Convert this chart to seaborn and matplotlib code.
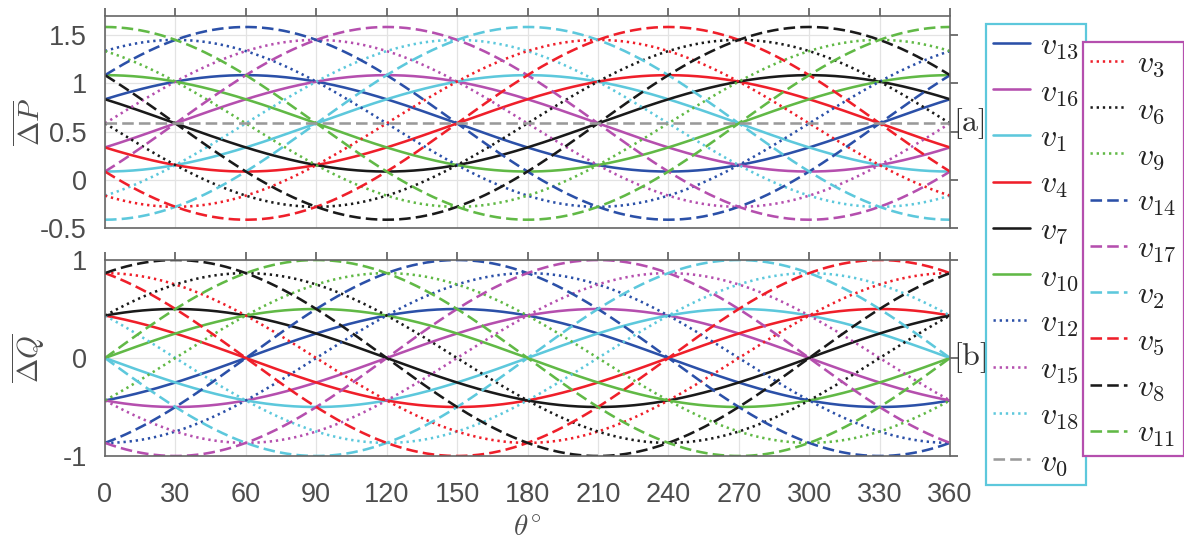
import numpy as np
import pandas as pd
import matplotlib
matplotlib.use('Agg')
import matplotlib.pyplot as plt
import matplotlib.transforms as mtransforms
import seaborn as sns

# Curves are sinusoids over theta; parameters
names = ['v13', 'v16', 'v1', 'v4', 'v7', 'v10',
         'v12', 'v15', 'v18', 'v3', 'v6', 'v9',
         'v14', 'v17', 'v2', 'v5', 'v8', 'v11']
p_level = 0.586          # common mean of the dP curves (also v0)
p_amp = [0.5] * 6 + [0.866] * 6 + [1.0] * 6
p_phase = [60, 120, 180, 240, 300, 0,
           30, 90, 150, 210, 270, 330,
           60, 120, 180, 240, 300, 0]
q_amp = [0.5] * 6 + [0.866] * 6 + [1.0] * 6
q_phase = [60, 120, 180, 240, 300, 0,
           90, 150, 210, 270, 330, 30,
           60, 120, 180, 240, 300, 0]
xticks = list(range(0, 361, 30))
p_yticks = [-0.5, 0, 0.5, 1, 1.5]
p_yticklabels = ['-0.5', '0', '0.5', '1', '1.5']
q_yticks = [-1, 0, 1]
q_yticklabels = ['-1', '0', '1']

# styles
blue, mag, cyan, red, blk, grn = '#2b50a8', '#b54fae', '#5dc8dc', '#ef1f2a', '#1a1a1a', '#61b946'
colors = [blue, mag, cyan, red, blk, grn] * 3
styles = ['-'] * 6 + [(0, (0.9, 1.5))] * 6 + [(0, (4.5, 2.0))] * 6

theta = np.linspace(0, 360, 721)
rows = []
for i, n in enumerate(names):
    rows.append(pd.DataFrame({'theta': theta, 'name': n,
                              'P': p_level + p_amp[i] * np.cos(np.deg2rad(theta - p_phase[i])),
                              'Q': q_amp[i] * np.sin(np.deg2rad(theta - q_phase[i]))}))
df = pd.concat(rows, ignore_index=True)

sns.set_style('whitegrid')
plt.rcParams['font.family'] = ['Liberation Sans', 'DejaVu Sans']
plt.rcParams['mathtext.fontset'] = 'cm'

fig = plt.figure(figsize=(11.84, 5.43), dpi=100)
ax1 = fig.add_axes([105 / 1184, 1 - 228 / 543, 845 / 1184, 212 / 543])
ax2 = fig.add_axes([105 / 1184, 1 - 456 / 543, 845 / 1184, 196 / 543])

handles = {}
for i, n in enumerate(names):
    d = df[df['name'] == n]
    sns.lineplot(data=d, x='theta', y='P', ax=ax1, color=colors[i], linestyle=styles[i],
                 linewidth=1.85, estimator=None, sort=False)
    handles[n] = ax1.get_lines()[-1]
    sns.lineplot(data=d, x='theta', y='Q', ax=ax2, color=colors[i], linestyle=styles[i],
                 linewidth=1.85, estimator=None, sort=False)

sns.lineplot(x=theta, y=np.full_like(theta, p_level), ax=ax1, color='#9a9a9a',
             linestyle=(0, (4.5, 2.0)), linewidth=1.85, estimator=None, sort=False)
handles['v0'] = ax1.get_lines()[-1]

for ax, yt, ytl in [(ax1, p_yticks, p_yticklabels), (ax2, q_yticks, q_yticklabels)]:
    ax.set_xlim(0, 360)
    ax.set_xticks(xticks)
    ax.set_yticks(yt)
    ax.set_yticklabels(ytl)
    ax.grid(True, color='#e3e3e3', linewidth=0.9)
    ax.tick_params(direction='out', length=6, width=1.1, top=True, right=True,
                   labeltop=False, labelright=False, colors='#4d4d4d', labelsize=19.5)
    ax.tick_params(axis='x', pad=13)
    ax.tick_params(axis='y', pad=7)
    for s in ax.spines.values():
        s.set_visible(True)
        s.set_color('#666666')
        s.set_linewidth(1.2)
    ax.set_xlabel('')

ax1.set_ylim(-0.5, 1.7)
ax2.set_ylim(-1, 1)
ax1.tick_params(labelbottom=False)
ax2.set_xticklabels([str(t) for t in xticks])

ax1.set_ylabel(r'$\overline{\Delta P}$', fontsize=21, color='#4d4d4d')
ax2.set_ylabel(r'$\overline{\Delta Q}$', fontsize=21, color='#4d4d4d')
ax1.yaxis.set_label_coords(-0.069, 0.5)
ax2.yaxis.set_label_coords(-0.069, 0.5)
ax2.set_xlabel(r'$\theta^{\circ}$', fontsize=21, color='#4d4d4d', labelpad=3)

tr1 = mtransforms.blended_transform_factory(ax1.transAxes, ax1.transData)
tr2 = mtransforms.blended_transform_factory(ax2.transAxes, ax2.transData)
ax1.text(1.003, p_level, r'$\mathrm{[a]}$', transform=tr1, fontsize=23, va='center', ha='left', color='#333333')
ax2.text(1.003, 0, r'$\mathrm{[b]}$', transform=tr2, fontsize=23, va='center', ha='left', color='#333333')

leg1_names = names[:9] + ['v0']
leg2_names = names[9:]
common = dict(loc='upper left', bbox_transform=fig.transFigure, borderaxespad=0, fancybox=False,
              fontsize=23, handlelength=1.15, handletextpad=0.33, borderpad=0.22,
              labelspacing=0.495, framealpha=1)
lg1 = fig.legend([handles[n] for n in leg1_names], [r'$v_{%s}$' % n[1:] for n in leg1_names],
                 bbox_to_anchor=(986 / 1184, 1 - 24 / 543), edgecolor=cyan, **common)
lg2 = fig.legend([handles[n] for n in leg2_names], [r'$v_{%s}$' % n[1:] for n in leg2_names],
                 bbox_to_anchor=(1083 / 1184, 1 - 42 / 543), edgecolor=mag, **common)
for lg in (lg1, lg2):
    lg.get_frame().set_linewidth(1.6)
    for t in lg.get_texts():
        t.set_color('#222222')

fig.savefig('out.png', dpi=100)
